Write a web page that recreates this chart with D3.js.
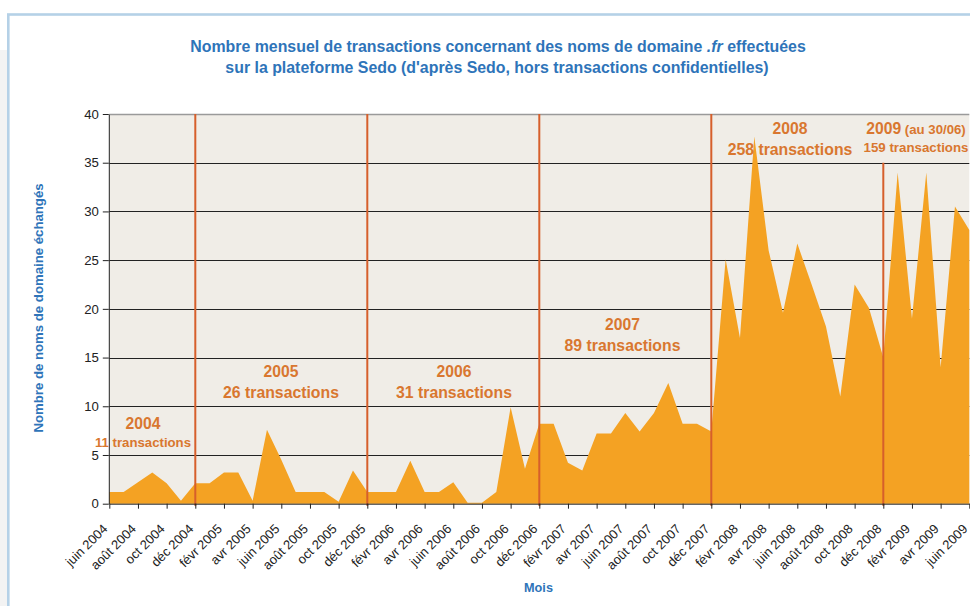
<!DOCTYPE html>
<html><head><meta charset="utf-8">
<script src="https://cdn.jsdelivr.net/npm/d3@7"></script>
<style>body{margin:0;background:#fff;} svg{display:block;font-family:Arial,"Liberation Sans",sans-serif;}</style>
</head><body><svg id="c" width="970" height="606"></svg>
<script>
// ---- data ----
const months = ["juin 2004","juil 2004","août 2004","sept 2004","oct 2004","nov 2004","déc 2004",
"janv 2005","févr 2005","mars 2005","avr 2005","mai 2005","juin 2005","juil 2005","août 2005","sept 2005","oct 2005","nov 2005","déc 2005",
"janv 2006","févr 2006","mars 2006","avr 2006","mai 2006","juin 2006","juil 2006","août 2006","sept 2006","oct 2006","nov 2006","déc 2006",
"janv 2007","févr 2007","mars 2007","avr 2007","mai 2007","juin 2007","juil 2007","août 2007","sept 2007","oct 2007","nov 2007","déc 2007",
"janv 2008","févr 2008","mars 2008","avr 2008","mai 2008","juin 2008","juil 2008","août 2008","sept 2008","oct 2008","nov 2008","déc 2008",
"janv 2009","févr 2009","mars 2009","avr 2009","mai 2009","juin 2009"];
const values = [1.2,1.2,2.2,3.2,2.1,0.3,2.1,
2.1,3.2,3.2,0.3,7.6,4.5,1.2,1.2,1.2,0.2,3.4,1.2,
1.2,1.2,4.4,1.2,1.2,2.2,0.1,0.1,1.2,9.9,3.6,8.2,
8.2,4.2,3.4,7.2,7.2,9.3,7.4,9.3,12.4,8.2,8.2,7.4,
25.1,17,37.7,26,19.6,26.7,22.5,18.2,11,22.5,20.1,15,
34,19,34,14,30.5,28.1];
const tickLabels = ["juin 2004","août 2004","oct 2004","déc 2004","févr 2005","avr 2005","juin 2005","août 2005","oct 2005","déc 2005",
"févr 2006","avr 2006","juin 2006","août 2006","oct 2006","déc 2006","févr 2007","avr 2007","juin 2007","août 2007","oct 2007","déc 2007",
"févr 2008","avr 2008","juin 2008","août 2008","oct 2008","déc 2008","févr 2009","avr 2009","juin 2009"];
const yTicks = [0,5,10,15,20,25,30,35,40];
const yearBreaks = ["déc 2004","déc 2005","déc 2006","déc 2007","déc 2008"];
const yearLabels = ["2004","2005","2006","2007","2008","2009"];
const yearTotals = [11,26,31,89,258,159];

// ---- layout ----
const svg = d3.select("#c");
const x = d3.scaleLinear().domain([0, months.length-1]).range([109.3, 969.3]);
const y = d3.scaleLinear().domain([0, 40]).range([503.7, 114]);
const blue = "#2e74b9", orange = "#d9772f";

// frame
svg.append("rect").attr("x",0).attr("y",50).attr("width",7).attr("height",556).attr("fill","#f3f3f3");
svg.append("rect").attr("x",8.3).attr("y",14.5).attr("width",980).attr("height",620)
  .attr("fill","#fff").attr("stroke","#b5d1e7").attr("stroke-width",2.6);

// title
const t = svg.append("text").attr("x",498).attr("y",52).attr("text-anchor","middle")
  .attr("font-size",15.9).attr("font-weight","bold").attr("fill",blue);
t.append("tspan").text("Nombre mensuel de transactions concernant des noms de domaine ");
t.append("tspan").attr("font-style","italic").text(".fr");
t.append("tspan").text(" effectuées");
svg.append("text").attr("x",497).attr("y",73).attr("text-anchor","middle")
  .attr("font-size",15.9).attr("font-weight","bold").attr("fill",blue)
  .text("sur la plateforme Sedo (d'après Sedo, hors transactions confidentielles)");

// plot bg
svg.append("rect").attr("x",x(0)).attr("y",y(40)).attr("width",x(60)-x(0)).attr("height",y(0)-y(40)).attr("fill","#f0ede7");

// gridlines
svg.append("g").selectAll("line").data(yTicks.filter(d=>d>0)).join("line")
  .attr("x1",x(0)).attr("x2",x(60)).attr("y1",d=>Math.round(y(d))+0.5).attr("y2",d=>Math.round(y(d))+0.5)
  .attr("stroke",d=>d===40?"#9a9a9a":"#222").attr("stroke-width",d=>d===40?1.6:1.1);

// area
const area = d3.area().x((d,i)=>x(i)).y0(y(0)).y1(d=>y(d)).curve(d3.curveLinear);
svg.append("path").datum(values).attr("d",area).attr("fill","#f4a223");

// year separators
svg.append("g").selectAll("line").data(yearBreaks).join("line")
  .attr("x1",d=>x(months.indexOf(d))).attr("x2",d=>x(months.indexOf(d)))
  .attr("y1",(d,i)=>i===yearBreaks.length-1?y(35):y(40)).attr("y2",y(0)+2)
  .attr("stroke","#d65f2b").attr("stroke-width",2);

// axes
const yAxis = svg.append("g").attr("transform",`translate(${x(0)-0.5},0)`)
  .call(d3.axisLeft(y).tickValues(yTicks).tickSize(6).tickPadding(4).tickSizeOuter(0));
yAxis.selectAll("text").attr("font-size",13.2).attr("fill","#222").attr("font-family","Arial,'Liberation Sans',sans-serif");
yAxis.selectAll("line,path").attr("stroke","#222");

const xAxis = svg.append("g").attr("transform",`translate(0,${y(0)})`)
  .call(d3.axisBottom(x).tickValues(tickLabels.map(l=>months.indexOf(l))).tickFormat(i=>months[i]).tickSize(5).tickSizeOuter(0));
xAxis.selectAll("line,path").attr("stroke","#222");
xAxis.selectAll("text").attr("font-size",13).attr("fill","#222").attr("font-family","Arial,'Liberation Sans',sans-serif")
  .attr("text-anchor","end").attr("x",0).attr("y",0).attr("dy",0)
  .attr("transform","translate(-1.5,26) rotate(-45)");

// axis titles
svg.append("text").attr("transform","translate(43,308) rotate(-90)").attr("text-anchor","middle")
  .attr("font-size",13.2).attr("font-weight","bold").attr("fill",blue).text("Nombre de noms de domaine échangés");
svg.append("text").attr("x",538.5).attr("y",592).attr("text-anchor","middle")
  .attr("font-size",12.7).attr("font-weight","bold").attr("fill",blue).text("Mois");

// year annotations (pixel positions)
const annPos = [[143,429,446.5,13.2],[281,377,398,15.8],[454,377,398,15.8],[622.5,330,351,15.8],[790,134,155,15.8],[916,134,151.5,13.3]];
yearLabels.forEach((lab,i)=>{
  const [cx,y1,y2,fs2] = annPos[i];
  const a = svg.append("text").attr("x",cx).attr("y",y1).attr("text-anchor","middle")
    .attr("font-size",15.7).attr("font-weight","bold").attr("fill",orange);
  a.append("tspan").text(lab);
  if (i===yearLabels.length-1) a.append("tspan").attr("font-size",13.2).text(" (au 30/06)");
  svg.append("text").attr("x",cx).attr("y",y2).attr("text-anchor","middle")
    .attr("font-size",fs2).attr("font-weight","bold").attr("fill",orange)
    .text(`${yearTotals[i]} transactions`);
});
</script></body></html>
